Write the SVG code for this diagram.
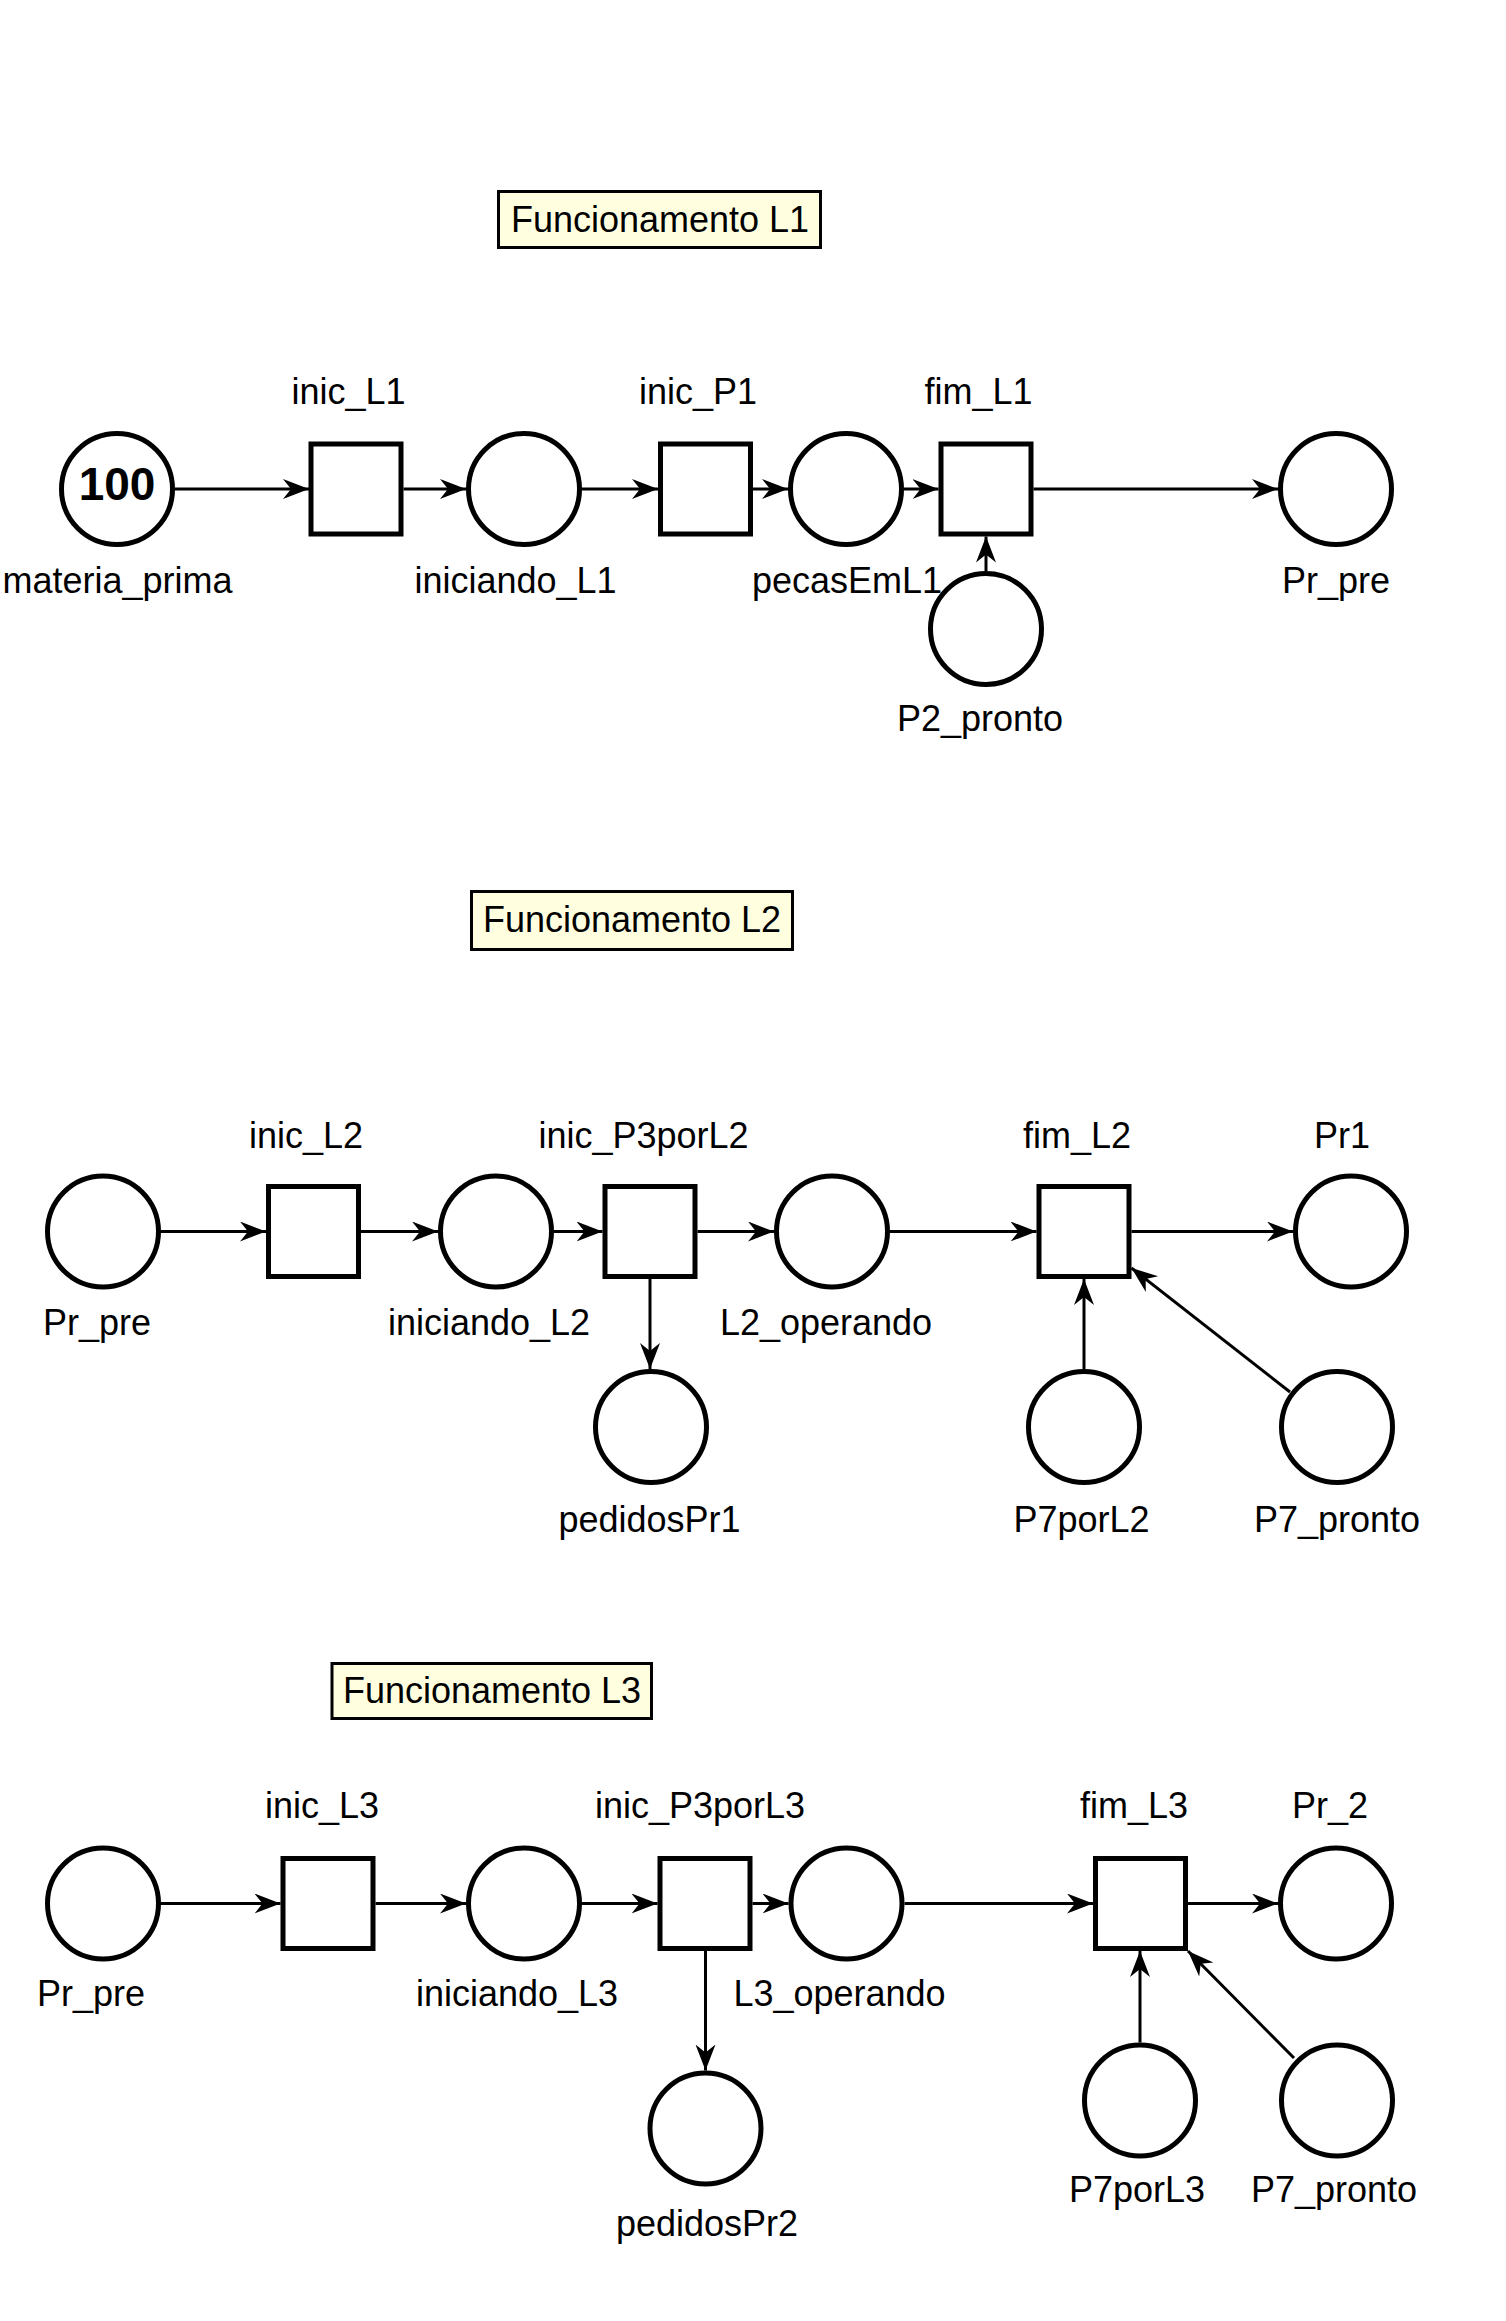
<svg xmlns="http://www.w3.org/2000/svg" width="1506" height="2321" viewBox="0 0 1506 2321">
  <style>
    .place { fill: #ffffff; stroke: #000000; stroke-width: 5; }
    .trans { fill: #ffffff; stroke: #000000; stroke-width: 5; }
    .note rect { fill: #ffffe0; stroke: #000000; stroke-width: 3; }
    .lbl { font-family: "Liberation Sans", Arial, sans-serif; font-size: 36px; fill: #000000; text-anchor: middle; }
    .tok { font-family: "Liberation Sans", Arial, sans-serif; font-size: 46px; font-weight: bold; fill: #000000; text-anchor: middle; }
    .arc { stroke: #000000; stroke-width: 3; fill: none; marker-end: url(#arrow); }
  </style>
  <defs>
    <marker id="arrow" markerUnits="userSpaceOnUse" markerWidth="28" markerHeight="22" refX="26" refY="10" orient="auto">
      <path d="M0,0 L26,10 L0,20 L8,10 Z" fill="#000000"/>
    </marker>
  </defs>
  <rect x="0" y="0" width="1506" height="2321" fill="#ffffff"/>

  <!-- Section notes -->
  <g id="note_L1" class="note">
    <rect x="498.5" y="191.5" width="322" height="56"/>
    <text class="lbl" x="660" y="232">Funcionamento L1</text>
  </g>
  <g id="note_L2" class="note">
    <rect x="471.5" y="891.5" width="321" height="58"/>
    <text class="lbl" x="632" y="932">Funcionamento L2</text>
  </g>
  <g id="note_L3" class="note">
    <rect x="332" y="1663.5" width="319.5" height="55"/>
    <text class="lbl" x="492" y="1703">Funcionamento L3</text>
  </g>

  <!-- Connectors -->
  <g id="arcs">
    <!-- L1 -->
    <line class="arc" x1="175" y1="489" x2="309" y2="489"/>
    <line class="arc" x1="403.5" y1="489" x2="466" y2="489"/>
    <line class="arc" x1="582" y1="489" x2="658" y2="489"/>
    <line class="arc" x1="753" y1="489" x2="788" y2="489"/>
    <line class="arc" x1="904" y1="489" x2="938.5" y2="489"/>
    <line class="arc" x1="1033.5" y1="489" x2="1278" y2="489"/>
    <line class="arc" x1="986" y1="571" x2="986" y2="536.5"/>
    <!-- L2 -->
    <line class="arc" x1="161" y1="1231.5" x2="266" y2="1231.5"/>
    <line class="arc" x1="361" y1="1231.5" x2="438" y2="1231.5"/>
    <line class="arc" x1="554" y1="1231.5" x2="602.5" y2="1231.5"/>
    <line class="arc" x1="697.5" y1="1231.5" x2="774" y2="1231.5"/>
    <line class="arc" x1="890" y1="1231.5" x2="1036.5" y2="1231.5"/>
    <line class="arc" x1="1131.5" y1="1231.5" x2="1293" y2="1231.5"/>
    <line class="arc" x1="650" y1="1279" x2="650" y2="1369"/>
    <line class="arc" x1="1084" y1="1369" x2="1084" y2="1279"/>
    <line class="arc" x1="1290" y1="1392" x2="1131.5" y2="1268"/>
    <!-- L3 -->
    <line class="arc" x1="161" y1="1903.5" x2="280.5" y2="1903.5"/>
    <line class="arc" x1="375.5" y1="1903.5" x2="466" y2="1903.5"/>
    <line class="arc" x1="582" y1="1903.5" x2="657.5" y2="1903.5"/>
    <line class="arc" x1="752.5" y1="1903.5" x2="788.5" y2="1903.5"/>
    <line class="arc" x1="904.5" y1="1903.5" x2="1093" y2="1903.5"/>
    <line class="arc" x1="1188" y1="1903.5" x2="1278" y2="1903.5"/>
    <line class="arc" x1="705.5" y1="1951" x2="705.5" y2="2070.5"/>
    <line class="arc" x1="1140" y1="2042.5" x2="1140" y2="1951"/>
    <line class="arc" x1="1294" y1="2058" x2="1188" y2="1951"/>
  </g>

  <!-- L1 nodes -->
  <g id="materia_prima">
    <circle class="place" cx="117" cy="489" r="55.5"/>
    <text class="tok" x="117" y="500">100</text>
    <text class="lbl" x="117.5" y="593">materia_prima</text>
  </g>
  <g id="inic_L1">
    <rect class="trans" x="311" y="444" width="90" height="90"/>
    <text class="lbl" x="348.5" y="404">inic_L1</text>
  </g>
  <g id="iniciando_L1">
    <circle class="place" cx="524" cy="489" r="55.5"/>
    <text class="lbl" x="515.5" y="593">iniciando_L1</text>
  </g>
  <g id="inic_P1">
    <rect class="trans" x="660.5" y="444" width="90" height="90"/>
    <text class="lbl" x="698" y="404">inic_P1</text>
  </g>
  <g id="pecasEmL1">
    <circle class="place" cx="846" cy="489" r="55.5"/>
    <text class="lbl" x="847" y="593">pecasEmL1</text>
  </g>
  <g id="fim_L1">
    <rect class="trans" x="941" y="444" width="90" height="90"/>
    <text class="lbl" x="978.5" y="404">fim_L1</text>
  </g>
  <g id="Pr_pre_L1">
    <circle class="place" cx="1336" cy="489" r="55.5"/>
    <text class="lbl" x="1336" y="593">Pr_pre</text>
  </g>
  <g id="P2_pronto">
    <circle class="place" cx="986" cy="629" r="55.5"/>
    <text class="lbl" x="980" y="731">P2_pronto</text>
  </g>

  <!-- L2 nodes -->
  <g id="Pr_pre_L2">
    <circle class="place" cx="103" cy="1231.5" r="55.5"/>
    <text class="lbl" x="97" y="1335">Pr_pre</text>
  </g>
  <g id="inic_L2">
    <rect class="trans" x="268.5" y="1186.5" width="90" height="90"/>
    <text class="lbl" x="306" y="1148">inic_L2</text>
  </g>
  <g id="iniciando_L2">
    <circle class="place" cx="496" cy="1231.5" r="55.5"/>
    <text class="lbl" x="489" y="1335">iniciando_L2</text>
  </g>
  <g id="inic_P3porL2">
    <rect class="trans" x="605" y="1186.5" width="90" height="90"/>
    <text class="lbl" x="643.5" y="1148">inic_P3porL2</text>
  </g>
  <g id="L2_operando">
    <circle class="place" cx="832" cy="1231.5" r="55.5"/>
    <text class="lbl" x="826" y="1335">L2_operando</text>
  </g>
  <g id="fim_L2">
    <rect class="trans" x="1039" y="1186.5" width="90" height="90"/>
    <text class="lbl" x="1077" y="1148">fim_L2</text>
  </g>
  <g id="Pr1">
    <circle class="place" cx="1351" cy="1231.5" r="55.5"/>
    <text class="lbl" x="1342" y="1148">Pr1</text>
  </g>
  <g id="pedidosPr1">
    <circle class="place" cx="651" cy="1427" r="55.5"/>
    <text class="lbl" x="649.5" y="1532">pedidosPr1</text>
  </g>
  <g id="P7porL2">
    <circle class="place" cx="1084" cy="1427" r="55.5"/>
    <text class="lbl" x="1081.5" y="1532">P7porL2</text>
  </g>
  <g id="P7_pronto_L2">
    <circle class="place" cx="1337" cy="1427" r="55.5"/>
    <text class="lbl" x="1337" y="1532">P7_pronto</text>
  </g>

  <!-- L3 nodes -->
  <g id="Pr_pre_L3">
    <circle class="place" cx="103" cy="1903.5" r="55.5"/>
    <text class="lbl" x="91" y="2006">Pr_pre</text>
  </g>
  <g id="inic_L3">
    <rect class="trans" x="283" y="1858.5" width="90" height="90"/>
    <text class="lbl" x="322" y="1818">inic_L3</text>
  </g>
  <g id="iniciando_L3">
    <circle class="place" cx="524" cy="1903.5" r="55.5"/>
    <text class="lbl" x="517" y="2006">iniciando_L3</text>
  </g>
  <g id="inic_P3porL3">
    <rect class="trans" x="660" y="1858.5" width="90" height="90"/>
    <text class="lbl" x="700" y="1818">inic_P3porL3</text>
  </g>
  <g id="L3_operando">
    <circle class="place" cx="846.5" cy="1903.5" r="55.5"/>
    <text class="lbl" x="839.5" y="2006">L3_operando</text>
  </g>
  <g id="fim_L3">
    <rect class="trans" x="1095.5" y="1858.5" width="90" height="90"/>
    <text class="lbl" x="1134" y="1818">fim_L3</text>
  </g>
  <g id="Pr_2">
    <circle class="place" cx="1336" cy="1903.5" r="55.5"/>
    <text class="lbl" x="1330" y="1818">Pr_2</text>
  </g>
  <g id="pedidosPr2">
    <circle class="place" cx="705.5" cy="2128.5" r="55.5"/>
    <text class="lbl" x="707" y="2236">pedidosPr2</text>
  </g>
  <g id="P7porL3">
    <circle class="place" cx="1140" cy="2100.5" r="55.5"/>
    <text class="lbl" x="1137" y="2202">P7porL3</text>
  </g>
  <g id="P7_pronto_L3">
    <circle class="place" cx="1337" cy="2100.5" r="55.5"/>
    <text class="lbl" x="1334" y="2202">P7_pronto</text>
  </g>
</svg>
